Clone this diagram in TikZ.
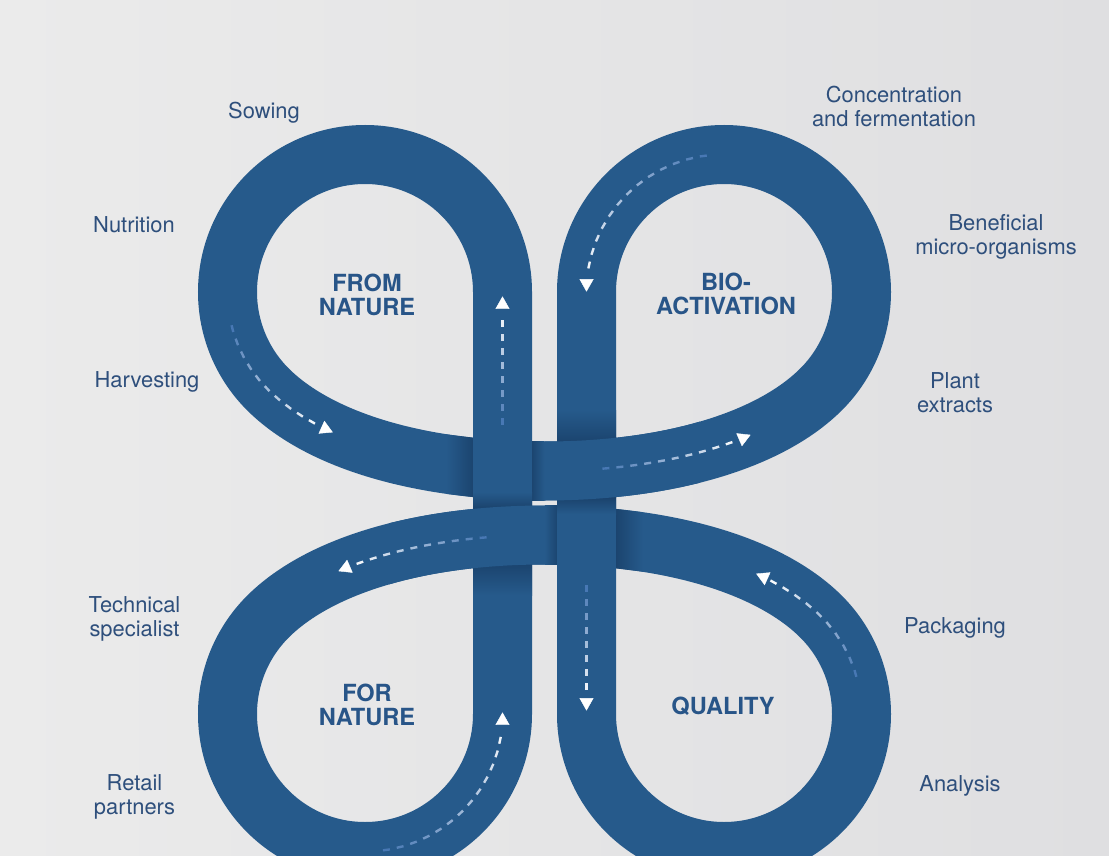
\documentclass[tikz,border=0pt]{standalone}
\usepackage{fontspec}
\setmainfont{TeX Gyre Heros}
\usetikzlibrary{decorations.markings,arrows.meta}
\definecolor{band}{RGB}{38,90,139}
\definecolor{banddark}{RGB}{26,66,108}
\definecolor{dashstart}{RGB}{72,120,180}
\definecolor{lbltxt}{RGB}{46,79,124}
\definecolor{ttltxt}{RGB}{40,85,136}
\definecolor{bgl}{RGB}{235,235,235}
\definecolor{bgr}{RGB}{223,223,225}
\tikzset{
  bandst/.style={draw=band, line width=59pt},
  lbl/.style={text=lbltxt, font=\fontsize{21.9}{24}\selectfont, align=center, inner sep=0pt},
  ttl/.style={text=ttltxt, font=\fontsize{23.6}{23.5}\selectfont\bfseries, align=center, inner sep=0pt},
  fadedash/.style={decoration={markings,
      mark=between positions #1pt and -18pt step 14pt with {
        \pgfmathsetmacro\dfa{\pgfkeysvalueof{/pgf/decoration/mark info/distance from start}-#1}
        \pgfmathsetmacro\dfb{\pgfdecoratedpathlength-18-#1}
        \pgfmathtruncatemacro\dfr{max(0,min(100,(\dfa/\dfb)*100))}
        \draw[line width=2.4pt, white!\dfr!dashstart] (0pt,0pt) -- (7pt,0pt);
      },
      mark=at position -0.4pt with {\arrow{Triangle[width=14pt,length=12.5pt,color=white,fill=white]}}
    }, decorate}
}
\begin{document}
\begin{tikzpicture}[x=1pt,y=-1pt]
\useasboundingbox (0,0) rectangle (1109,856);
\shade[left color=bgl, right color=bgr] (0,0) rectangle (1109,856);
\clip (0,0) rectangle (1109,856);
% full ribbon
\draw[bandst] (502.5,503) -- (502.5,292)
  .. controls (502.5,216.06) and (440.94,154.5) .. (365,154.5)
  .. controls (289.06,154.5) and (227.5,216.06) .. (227.5,292)
  .. controls (227.5,328.47) and (241.98,363.44) .. (267.77,389.23)
  .. controls (320.8,442.2) and (424.5,471) .. (544.5,471)
  .. controls (664.5,471) and (768.2,442.2) .. (821.23,389.23)
  .. controls (847.02,363.44) and (861.5,328.47) .. (861.5,292)
  .. controls (861.5,216.06) and (800.06,154.5) .. (724,154.5)
  .. controls (647.94,154.5) and (586.5,216.06) .. (586.5,292)
  -- (586.5,714)
  .. controls (586.5,789.94) and (647.94,851.5) .. (724,851.5)
  .. controls (800.06,851.5) and (861.5,789.94) .. (861.5,714)
  .. controls (861.5,677.53) and (847.02,642.56) .. (821.23,616.77)
  .. controls (768.2,563.8) and (664.5,535) .. (544.5,535)
  .. controls (424.5,535) and (320.8,563.8) .. (267.77,616.77)
  .. controls (241.98,642.56) and (227.5,677.53) .. (227.5,714)
  .. controls (227.5,789.94) and (289.06,851.5) .. (365,851.5)
  .. controls (440.94,851.5) and (502.5,789.94) .. (502.5,714) -- cycle;
% shadows on horizontal bands (under verticals)
\shade[left color=band, right color=banddark] (446,434.3) -- (476,438.0) -- (476,497.4) -- (446,493.8) -- cycle;
\shade[left color=banddark, right color=band] (530,441.5) rectangle (544.5,500.5);
\shade[left color=banddark, right color=band] (613,508.6) -- (643,512.3) -- (643,571.7) -- (613,568.0) -- cycle;
\shade[left color=band, right color=banddark] (544.5,505.5) rectangle (559,564.5);
% vertical bands on top
\draw[bandst] (502.5,380) -- (502.5,640);
\draw[bandst] (586.5,380) -- (586.5,640);
% shadows on vertical bands
\shade[top color=band, bottom color=banddark] (557,410) rectangle (616,445);
\shade[top color=banddark, bottom color=band] (557,497) rectangle (616,514);
\shade[top color=banddark, bottom color=band] (473,561) rectangle (532,595);
\shade[top color=band, bottom color=banddark] (473,492) rectangle (532,509);
% upper band over right vertical
\begin{scope}
\clip (544.5,380) rectangle (700,503);
\draw[bandst] (544.5,471) .. controls (664.5,471) and (768.2,442.2) .. (821.23,389.23);
\end{scope}
% lower band over left vertical
\begin{scope}
\clip (389,503) rectangle (544.5,626);
\draw[bandst] (544.5,535) .. controls (424.5,535) and (320.8,563.8) .. (267.77,616.77);
\end{scope}
% dashed direction arrows
\path[fadedash=0] (502.5,425) -- (502.5,296);
\path[fadedash=0] (231.58,325.26) .. controls (237.62,349.47) and (250.13,371.59) .. (267.77,389.23)
  .. controls (284.74,406.18) and (306.9,420.66) .. (333.2,432.5);
\path[fadedash=0] (706.77,155.58) .. controls (638.05,164.26) and (586.5,222.73) .. (586.5,292);
\path[fadedash=58] (544.5,471) .. controls (623.7,471) and (695.8,458.45) .. (750.92,434.69);
\path[fadedash=0] (586.5,585) -- (586.5,711);
\path[fadedash=0] (856.38,676.79) .. controls (850.0,654.1) and (837.9,633.44) .. (821.23,616.77)
  .. controls (804.26,599.82) and (782.1,585.34) .. (755.8,573.5);
\path[fadedash=58] (544.5,535) .. controls (465.3,535) and (393.2,547.55) .. (338.08,571.31);
\path[fadedash=0] (382.95,850.32) .. controls (451.36,841.32) and (502.5,783) .. (502.5,714) -- (502.5,712);
% labels
\node[lbl] (sowing) at (264,113) {Sowing};
\node[lbl] (nutrition) at (134,225) {Nutrition};
\node[lbl] (harvest) at (147,381.5) {Harvesting};
\node[lbl] (conc) at (894,106) {Concentration\\and fermentation};
\node[lbl] (benef) at (996,237) {Beneficial\\micro-organisms};
\node[lbl] (plant) at (955,393) {Plant\\extracts};
\node[lbl] (tech) at (134.5,619) {Technical\\specialist};
\node[lbl] (pack) at (955,627.5) {Packaging};
\node[lbl] (retail) at (134.5,797) {Retail\\partners};
\node[lbl] (analysis) at (960,786) {Analysis};
\node[ttl] (fromnat) at (367,295) {FROM\\NATURE};
\node[ttl] (bio) at (726,294) {BIO-\\ACTIVATION};
\node[ttl] (fornat) at (367,705) {FOR\\NATURE};
\node[ttl] (quality) at (723,706) {QUALITY};
\end{tikzpicture}
\end{document}
